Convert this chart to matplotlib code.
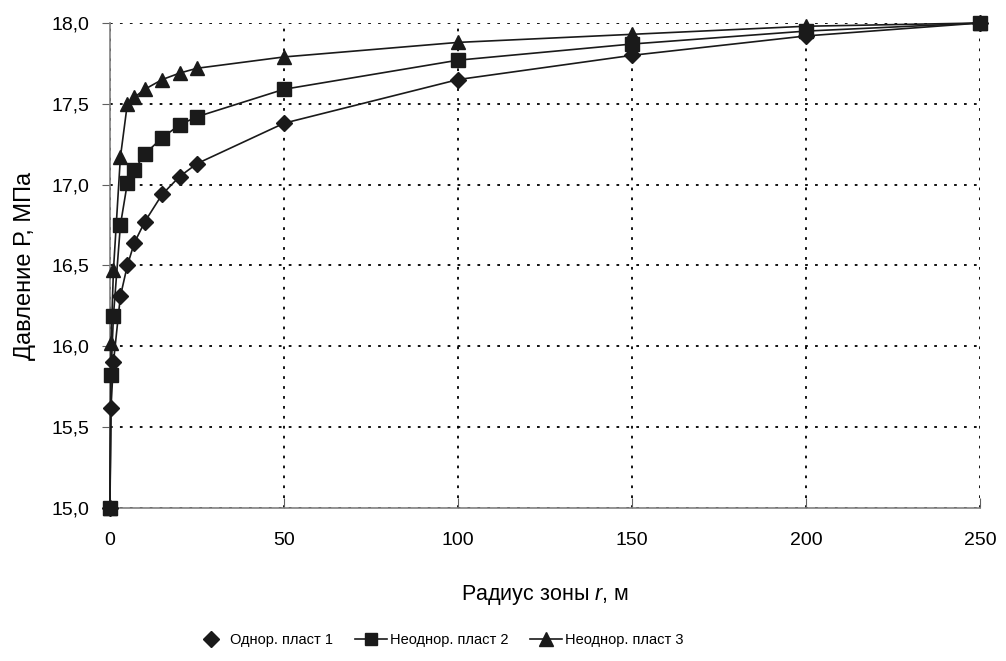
import matplotlib
matplotlib.use('Agg')
import matplotlib.pyplot as plt
from matplotlib.ticker import FuncFormatter, MultipleLocator
from matplotlib.lines import Line2D

plt.rcParams['font.family'] = ['Liberation Sans', 'DejaVu Sans']
plt.rcParams['mathtext.fontset'] = 'custom'
plt.rcParams['mathtext.rm'] = 'Liberation Sans'
plt.rcParams['mathtext.it'] = 'Liberation Sans:italic'

# radius of the zone, m
r = [0, 0.3, 1, 3, 5, 7, 10, 15, 20, 25, 50, 100, 150, 200, 250]

# pressure, MPa
p_layer1 = [15.0, 15.62, 15.90, 16.31, 16.50, 16.64, 16.77, 16.94, 17.05, 17.13, 17.38, 17.65, 17.80, 17.92, 18.0]
p_layer2 = [15.0, 15.82, 16.19, 16.75, 17.01, 17.09, 17.19, 17.29, 17.37, 17.42, 17.59, 17.77, 17.87, 17.95, 18.0]
p_layer3 = [15.0, 16.02, 16.47, 17.17, 17.50, 17.54, 17.59, 17.65, 17.69, 17.72, 17.79, 17.88, 17.93, 17.98, 18.0]

labels = ['Однор. пласт 1', 'Неоднор. пласт 2', 'Неоднор. пласт 3']

fig = plt.figure(figsize=(10.06, 6.61), dpi=100)
ax = fig.add_axes([0.1093, 0.2315, 0.8649, 0.7337])

mc = '#1a1a1a'
ax.plot(r, p_layer1, color=mc, lw=1.2, marker='D', ms=8.5, clip_on=False, zorder=3)
ax.plot(r, p_layer2, color=mc, lw=1.2, marker='s', ms=10, clip_on=False, zorder=3)
ax.plot(r, p_layer3, color=mc, lw=1.2, marker='^', ms=10.5, clip_on=False, zorder=3)

ax.set_xlim(0, 250)
ax.set_ylim(15, 18)
ax.xaxis.set_major_locator(MultipleLocator(50))
ax.yaxis.set_major_locator(MultipleLocator(0.5))
ax.yaxis.set_major_formatter(FuncFormatter(lambda v, pos: ('%.1f' % v).replace('.', ',')))

ax.grid(True, color='black', linestyle=(0, (1.5, 4)), linewidth=1.3)
for s in ['top', 'right']:
    ax.spines[s].set_visible(False)
for s in ['left', 'bottom']:
    ax.spines[s].set_color('#808080')
    ax.spines[s].set_linewidth(1.2)
ax.tick_params(axis='x', direction='in', length=7, color='#606060', labelsize=14, pad=17)
ax.tick_params(axis='y', direction='out', length=6, color='#606060', labelsize=14, pad=9)

ax.set_xlabel('Радиус зоны $\\it{r}$, м', fontsize=15.5, labelpad=25)
ax.set_ylabel('Давление Р, МПа', fontsize=17, labelpad=11)

handles = [
    Line2D([], [], color=mc, lw=0, marker='D', ms=8),
    Line2D([], [], color=mc, lw=1.2, marker='s', ms=9),
    Line2D([], [], color=mc, lw=1.2, marker='^', ms=10),
]
fig.legend(handles, labels, loc='center left', bbox_to_anchor=(0.194, 0.032), ncol=3,
           frameon=False, fontsize=10.5, handlelength=2.2, columnspacing=1.5, handletextpad=0.2,
           borderpad=0, borderaxespad=0)

fig.savefig('out.png', dpi=100)
